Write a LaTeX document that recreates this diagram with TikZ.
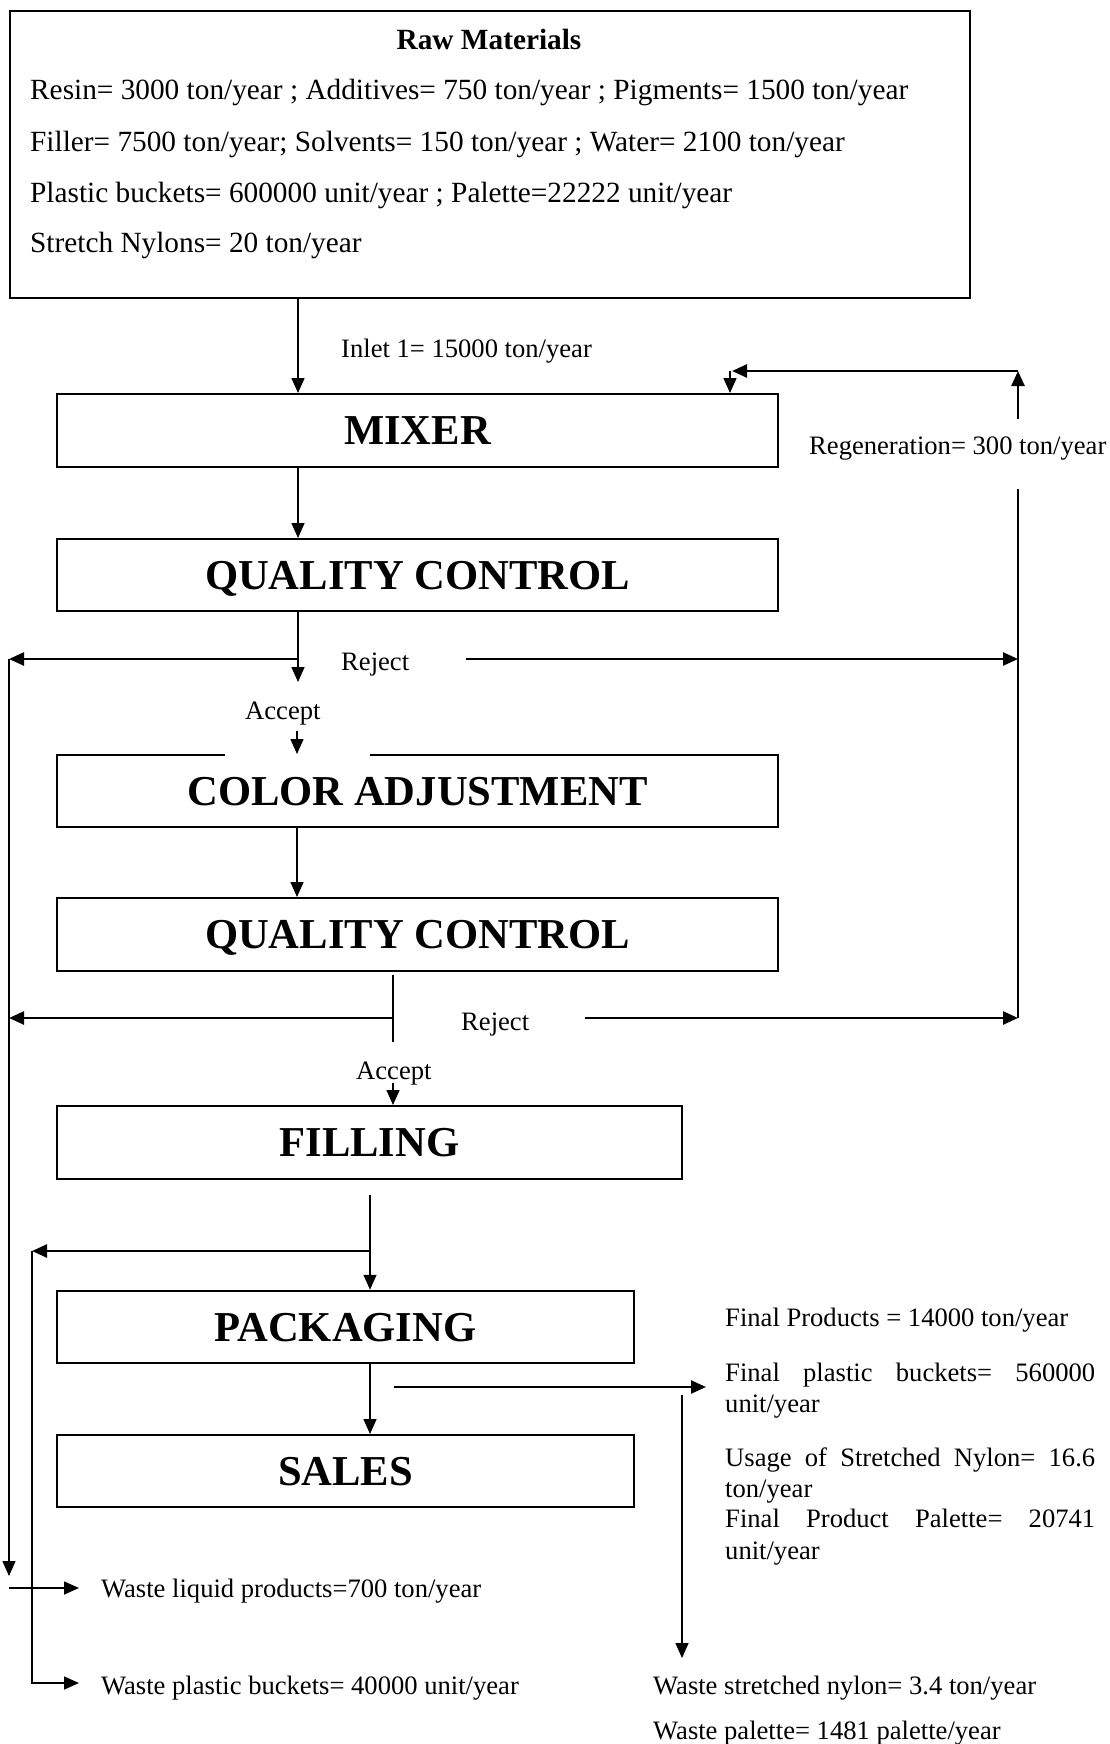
\documentclass[tikz,border=0pt]{standalone}
\usepackage{fontspec}
\setmainfont{Liberation Serif}
\usetikzlibrary{arrows.meta}
\begin{document}
\begin{tikzpicture}[x=1pt,y=-1pt,
  box/.style={draw, line width=2pt, inner sep=0pt,
    font=\fontsize{42.6}{48}\selectfont\bfseries, text height=28.2pt, text depth=0pt},
  lbl/.style={anchor=base west, inner sep=0pt, font=\fontsize{26.6}{31}\selectfont},
  rawtxt/.style={anchor=base west, inner sep=0pt, font=\fontsize{29.3}{34}\selectfont},
  tip/.style={-{Triangle[length=15pt,width=13pt]}},
  flow/.style={line width=1.5pt},
  loopline/.style={line width=2.5pt},
]
\fill[white] (0,0) rectangle (1110,1744);
\useasboundingbox (0,0) rectangle (1110,1744);

% columns used by the connectors
\coordinate (c1) at (298,0);
\coordinate (c2) at (393,0);
\coordinate (c3) at (370,0);
\coordinate (xl) at (9,0);
\coordinate (xl2) at (32,0);
\coordinate (xr) at (1018,0);
\coordinate (xreg) at (730,0);

% raw materials
\node[draw, line width=2pt, minimum width=960pt, minimum height=287pt, inner sep=0pt] (raw) at (490,154.5) {};
\node[anchor=base, inner sep=0pt, font=\fontsize{29.3}{34}\selectfont\bfseries] (rawtitle) at (489,50) {Raw Materials};
\node[rawtxt] (raw1) at (30,100) {Resin= 3000 ton/year ; Additives= 750 ton/year ; Pigments= 1500 ton/year};
\node[rawtxt] (raw2) at (30,151.5) {Filler= 7500 ton/year; Solvents= 150 ton/year ; Water= 2100 ton/year};
\node[rawtxt] (raw3) at (30,202.5) {Plastic buckets= 600000 unit/year ; Palette=22222 unit/year};
\node[rawtxt] (raw4) at (30,252.5) {Stretch Nylons= 20 ton/year};

% process boxes
\node[box, minimum width=721pt, minimum height=73pt] (mixer) at (417.5,430.5) {MIXER};
\node[box, minimum width=721pt, minimum height=72pt] (qc1) at (417.5,575) {QUALITY CONTROL};
\node[box, minimum width=721pt, minimum height=72pt] (color) at (417.5,791) {COLOR ADJUSTMENT};
\node[box, minimum width=721pt, minimum height=73pt] (qc2) at (417.5,934.5) {QUALITY CONTROL};
\node[box, minimum width=625pt, minimum height=73pt] (filling) at (369.5,1142.5) {FILLING};
\node[box, minimum width=577pt, minimum height=72.5pt] (packaging) at (345.5,1327) {PACKAGING};
\node[box, minimum width=577pt, minimum height=72pt] (sales) at (345.5,1471) {SALES};

% opening in the top border of the colour adjustment box
\fill[white] (224.5,752) rectangle (370,758.5);

% labels
\node[lbl] (inlet) at (341,357) {Inlet 1= 15000 ton/year};
\node[lbl] (regen) at (809,454) {Regeneration= 300 ton/year};
\node[lbl] (rej1) at (341,670) {Reject};
\node[lbl] (acc1) at (245,719) {Accept};
\node[lbl] (rej2) at (461,1030) {Reject};
\node[lbl] (acc2) at (356,1079) {Accept};

% main flow
\draw[flow,tip] (raw.south -| c1) -- (mixer.north -| c1);
\draw[flow,tip] (mixer.south -| c1) -- (qc1.north -| c1);
\draw[flow,tip] (qc1.south -| c1) -- (298,682);
\draw[flow,tip] (297,731) -- (color.north -| 297,0);
\draw[flow,tip] (color.south -| 297,0) -- (qc2.north -| 297,0);
\draw[flow] (393,975) -- (393,1042);
\draw[flow,tip] (393,1083) -- (filling.north -| c2);
\draw[flow,tip] (370,1195) -- (packaging.north -| c3);
\draw[flow,tip] (packaging.south -| c3) -- (sales.north -| c3);

% regeneration loop
\coordinate (regA) at (1018,419);
\coordinate (regB) at (1018,371);
\coordinate (regC) at (732,371);
\coordinate (regD) at (730,371);
\draw[loopline,tip] (regA) -- (regB);
\draw[loopline,tip] (regB) -- (regC);
\draw[flow,tip] (regD) -- (mixer.north -| xreg);
\draw[flow] (1018,489) -- (1018,1018);

% rejects
\draw[loopline,tip] (298,659) -- (xl |- 0,659);
\draw[loopline,tip] (466,659) -- (xr |- 0,659);
\draw[loopline,tip] (393,1018) -- (xl |- 0,1018);
\draw[loopline,tip] (585,1018) -- (xr |- 0,1018);
\draw[flow,tip] (9,659) -- (9,1576);
\coordinate (wl) at (9,1588);
\draw[flow,tip] (wl) -- (79,1588);

% packaging waste
\coordinate (pk) at (370,1251);
\draw[loopline,tip] (pk) -- (xl2 |- pk);
\draw[flow,tip] (32,1251) -- (32,1683) -- (79,1683);

% products and packaging losses
\coordinate (fpA) at (394,1387);
\draw[loopline,tip] (fpA) -- (706,1387);
\draw[flow,tip] (682,1395) -- (682,1658);

\node[lbl] (fp1) at (725,1326) {Final Products = 14000 ton/year};
\node[lbl] (fp2) at (725,1381) {\makebox[370pt][s]{Final plastic buckets= 560000}};
\node[lbl] (fp3) at (725,1412) {unit/year};
\node[lbl] (fp4) at (725,1466) {\makebox[370pt][s]{Usage of Stretched Nylon= 16.6}};
\node[lbl] (fp5) at (725,1497) {ton/year};
\node[lbl] (fp6) at (725,1527.5) {\makebox[370pt][s]{Final Product Palette= 20741}};
\node[lbl] (fp7) at (725,1559) {unit/year};

\node[lbl] (w1) at (101,1597) {Waste liquid products=700 ton/year};
\node[lbl] (w2) at (101,1694) {Waste plastic buckets= 40000 unit/year};
\node[lbl] (w3) at (653,1694) {Waste stretched nylon= 3.4 ton/year};
\node[lbl] (w4) at (653,1739) {Waste palette= 1481 palette/year};
\end{tikzpicture}
\end{document}
